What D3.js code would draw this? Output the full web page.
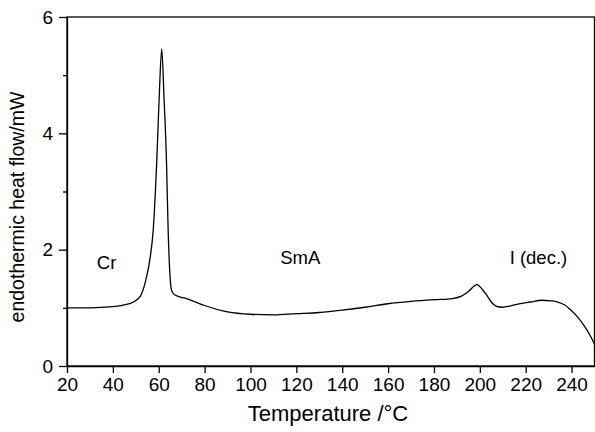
<!DOCTYPE html>
<html>
<head>
<meta charset="utf-8">
<script src="https://cdn.jsdelivr.net/npm/d3@7"></script>
<style>
  body { margin: 0; background: #fff; }
  text { font-family: "Liberation Sans", Arial, sans-serif; fill: #000; }
</style>
</head>
<body>
<div id="viz"></div>
<script>
// DSC trace
var temps = [20, 30, 40, 45, 49, 52, 54, 56, 57.6, 59.1, 60.2, 61.3, 62.3, 63.4, 64.1, 65, 65.6, 66.5, 69, 72,
             80, 90, 100, 110, 120, 130, 140, 150, 160, 170, 180, 188, 192, 195, 198.8, 201, 203, 205, 207,
             210, 213, 217, 222, 227, 231, 234, 237, 240, 242, 245, 247, 250];
var heatFlow = [1.00, 1.00, 1.02, 1.05, 1.10, 1.20, 1.42, 1.80, 2.34, 3.49, 4.62, 5.45, 4.62, 3.49, 2.34, 1.50, 1.30, 1.24, 1.19, 1.16,
                1.04, 0.93, 0.89, 0.88, 0.90, 0.92, 0.96, 1.01, 1.07, 1.11, 1.14, 1.16, 1.20, 1.28, 1.40, 1.32, 1.22, 1.10, 1.03,
                1.01, 1.03, 1.07, 1.10, 1.13, 1.12, 1.10, 1.05, 0.95, 0.87, 0.72, 0.60, 0.38];
var xTicks = [20, 40, 60, 80, 100, 120, 140, 160, 180, 200, 220, 240];
var yTicks = [0, 2, 4, 6];
var yMinor = [1, 3, 5];
var phaseLabels = ["Cr", "SmA", "I (dec.)"];
var phaseAt = [[33, 1.67], [113, 1.75], [213, 1.75]];

var w = 595, h = 432;
var pLeft = 67, pTop = 17, pRight = 594.5, pBottom = 366;

var svg = d3.select("#viz").append("svg")
    .attr("width", w)
    .attr("height", h);

var x = d3.scaleLinear().domain([20, 250]).range([pLeft, pRight]);
var y = d3.scaleLinear().domain([0, 6]).range([pBottom, pTop]);

// frame
svg.append("rect")
    .attr("x", pLeft).attr("y", pTop)
    .attr("width", pRight - pLeft).attr("height", pBottom - pTop)
    .style("fill", "none").style("stroke", "#000").style("stroke-width", 1.3);

svg.append("g")
    .attr("transform", "translate(0," + pBottom + ")")
    .call(d3.axisBottom(x).tickValues(xTicks).tickFormat(d3.format("d")).tickSize(7).tickPadding(5).tickSizeOuter(0));

svg.append("g")
    .attr("transform", "translate(" + pLeft + ",0)")
    .call(d3.axisLeft(y).tickValues(yTicks).tickFormat(d3.format("d")).tickSize(8).tickPadding(6).tickSizeOuter(0));

svg.append("g")
    .attr("class", "minor")
    .attr("transform", "translate(" + pLeft + ",0)")
    .call(d3.axisLeft(y).tickValues(yMinor).tickSize(4).tickFormat("").tickSizeOuter(0))
    .select(".domain").remove();

svg.selectAll(".domain").style("stroke", "#000").style("stroke-width", 1.3);
svg.selectAll(".tick line").style("stroke", "#000").style("stroke-width", 1.3);
svg.selectAll(".tick text")
    .style("font-family", "'Liberation Sans', Arial, sans-serif")
    .style("font-size", "19px")
    .style("fill", "#000");

// curve
var pts = temps.map(function(t, i){ return [t, heatFlow[i]]; });
var line = d3.line()
    .x(function(d){ return x(d[0]); })
    .y(function(d){ return y(d[1]); })
    .curve(d3.curveMonotoneX);

svg.append("path")
    .datum(pts)
    .attr("d", line)
    .style("fill", "none")
    .style("stroke", "#000")
    .style("stroke-width", 1.3);

// phase labels
svg.selectAll("text.phase")
    .data(phaseLabels)
    .enter().append("text")
    .attr("class", "phase")
    .attr("x", function(d, i){ return x(phaseAt[i][0]); })
    .attr("y", function(d, i){ return y(phaseAt[i][1]); })
    .style("font-size", "18.5px")
    .text(function(d){ return d; });

// axis titles
svg.append("text")
    .attr("x", 328).attr("y", 421)
    .attr("text-anchor", "middle")
    .style("font-size", "22px")
    .text("Temperature /°C");

svg.append("text")
    .attr("transform", "translate(24,207) rotate(-90)")
    .attr("text-anchor", "middle")
    .style("font-size", "19.5px")
    .text("endothermic heat flow/mW");
</script>
</body>
</html>
